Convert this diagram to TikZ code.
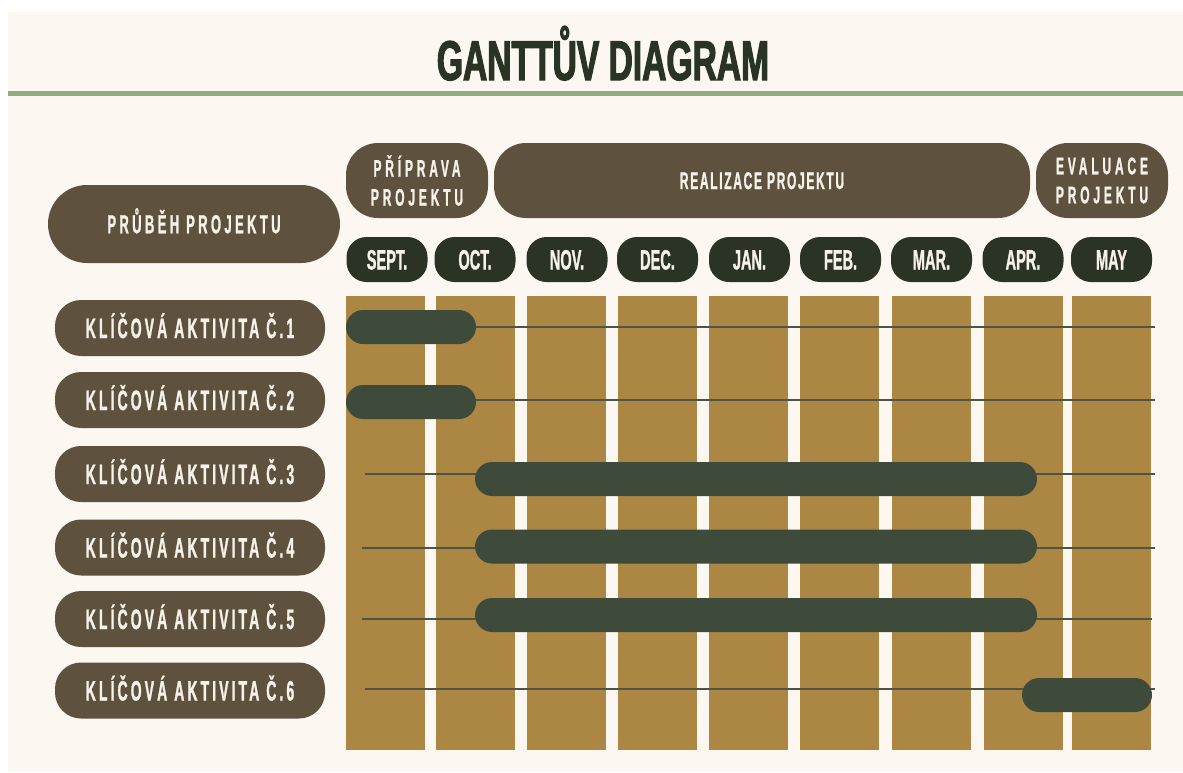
\documentclass[tikz,border=0pt]{standalone}
\usepackage{fontspec}
\setmainfont{Liberation Sans}
\newfontfamily\titlefont[FakeStretch=0.60,FakeBold=2]{Liberation Sans Bold}
\newfontfamily\pillfont[FakeStretch=0.52,FakeBold=1]{Liberation Sans Bold}
\newfontfamily\realfont[FakeStretch=0.50,FakeBold=1,LetterSpace=7]{Liberation Sans Bold}
\newfontfamily\actfont[FakeStretch=0.50,FakeBold=1,LetterSpace=11]{Liberation Sans Bold}
\newfontfamily\prubehfont[FakeStretch=0.50,FakeBold=1,LetterSpace=13]{Liberation Sans Bold}
\newfontfamily\phasefont[FakeStretch=0.50,FakeBold=1,LetterSpace=16]{Liberation Sans Bold}
\definecolor{bgcream}{HTML}{FCF7F1}
\definecolor{rulegreen}{HTML}{8FAE7E}
\definecolor{titlegreen}{HTML}{2A3424}
\definecolor{pillbrown}{HTML}{5E523F}
\definecolor{monthgreen}{HTML}{2B3324}
\definecolor{bargreen}{HTML}{3E4A3A}
\definecolor{colgold}{HTML}{AC8744}
\definecolor{textcream}{HTML}{F6F1E9}
\definecolor{gridgray}{HTML}{4F5448}
\tikzset{phasebox/.style={fill=pillbrown, text=textcream, inner sep=0pt, align=center, minimum height=75pt, rounded corners=32pt},
 monthpill/.style={fill=monthgreen, text=textcream, inner sep=0pt, minimum width=81pt, minimum height=45pt, rounded corners=20pt, text height=20pt, text depth=0pt, font=\pillfont\fontsize{28}{32}\selectfont},
 actpill/.style={fill=pillbrown, text=textcream, inner sep=0pt, minimum width=270pt, minimum height=56pt, rounded corners=26pt, text height=20pt, text depth=0pt, font=\actfont\fontsize{28}{32}\selectfont},
 monthcol/.style={fill=colgold, inner sep=0pt, minimum width=79pt, minimum height=454pt},
 taskbar/.style={fill=bargreen, inner sep=0pt, minimum height=34pt, rounded corners=17pt},
 gridline/.style={draw=gridgray, line width=1.2pt}}

\begin{document}
\begin{tikzpicture}[x=1pt,y=-1pt]
  \useasboundingbox (0,0) rectangle (1183,772);
  \fill[bgcream] (8,12) rectangle (1183,772);
  \fill[rulegreen] (8,91) rectangle (1183,96);
  \node[anchor=base, text=titlegreen, inner sep=0pt, font=\titlefont\fontsize{56}{60}\selectfont] (title) at (603,80) {GANTTŮV DIAGRAM};

  \node[phasebox, minimum width=292pt, rounded corners=39pt, minimum height=78pt, text height=18.5pt, text depth=0pt, font=\prubehfont\fontsize{26}{30}\selectfont] (prubeh) at (194,224) {PRŮBĚH PROJEKTU};
  \node[phasebox, minimum width=142pt, font=\phasefont\fontsize{24}{29}\selectfont] (priprava)  at ( 417,180.5) {PŘÍPRAVA\\PROJEKTU};
  \node[phasebox, minimum width=536pt, text height=17pt, text depth=0pt, font=\realfont\fontsize{24}{28}\selectfont] (realizace) at ( 762,180.5) {REALIZACE PROJEKTU};
  \node[phasebox, minimum width=132pt, font=\phasefont\fontsize{24}{29}\selectfont] (evaluace)  at (1102,180.5) {EVALUACE\\PROJEKTU};

  \node[monthpill] (sept) at ( 387.0,259.5) {SEPT.};
  \node[monthpill] (oct)  at ( 475.0,259.5) {OCT.};
  \node[monthpill] (nov)  at ( 567.0,259.5) {NOV.};
  \node[monthpill] (dec)  at ( 657.5,259.5) {DEC.};
  \node[monthpill] (jan)  at ( 749.5,259.5) {JAN.};
  \node[monthpill] (feb)  at ( 840.5,259.5) {FEB.};
  \node[monthpill] (mar)  at ( 931.5,259.5) {MAR.};
  \node[monthpill] (apr)  at (1023.0,259.5) {APR.};
  \node[monthpill] (may)  at (1111.5,259.5) {MAY};

  \node[monthcol] (colsept) at ( 385.5,523) {};
  \node[monthcol] (coloct)  at ( 475.5,523) {};
  \node[monthcol] (colnov)  at ( 566.5,523) {};
  \node[monthcol] (coldec)  at ( 657.0,523) {};
  \node[monthcol] (coljan)  at ( 748.5,523) {};
  \node[monthcol] (colfeb)  at ( 839.5,523) {};
  \node[monthcol] (colmar)  at ( 931.0,523) {};
  \node[monthcol] (colapr)  at (1023.0,523) {};
  \node[monthcol] (colmay)  at (1111.5,523) {};

  \node[actpill] (act1) at (190,328.0) {KLÍČOVÁ AKTIVITA Č.1};
  \node[actpill] (act2) at (190,400.0) {KLÍČOVÁ AKTIVITA Č.2};
  \node[actpill] (act3) at (190,474.0) {KLÍČOVÁ AKTIVITA Č.3};
  \node[actpill] (act4) at (190,547.5) {KLÍČOVÁ AKTIVITA Č.4};
  \node[actpill] (act5) at (190,619.0) {KLÍČOVÁ AKTIVITA Č.5};
  \node[actpill] (act6) at (190,690.5) {KLÍČOVÁ AKTIVITA Č.6};

  \coordinate (row1w) at (365,327); \coordinate (row1e) at (1155,327);
  \coordinate (row2w) at (365,400); \coordinate (row2e) at (1155,400);
  \coordinate (row3w) at (365,474); \coordinate (row3e) at (1155,474);
  \coordinate (row4w) at (362,548); \coordinate (row4e) at (1155,548);
  \coordinate (row5w) at (362,619); \coordinate (row5e) at (1152,619);
  \coordinate (row6w) at (365,689); \coordinate (row6e) at (1155,689);
  \draw[gridline] (row1w) -- (row1e);
  \draw[gridline] (row2w) -- (row2e);
  \draw[gridline] (row3w) -- (row3e);
  \draw[gridline] (row4w) -- (row4e);
  \draw[gridline] (row5w) -- (row5e);
  \draw[gridline] (row6w) -- (row6e);

  \node[taskbar, minimum width=130pt] (bar1) at ( 411,327.0) {};
  \node[taskbar, minimum width=130pt] (bar2) at ( 411,402.0) {};
  \node[taskbar, minimum width=562pt] (bar3) at ( 756,479.0) {};
  \node[taskbar, minimum width=562pt] (bar4) at ( 756,546.5) {};
  \node[taskbar, minimum width=562pt] (bar5) at ( 756,615.0) {};
  \node[taskbar, minimum width=130pt] (bar6) at (1087,695.0) {};
\end{tikzpicture}
\end{document}
